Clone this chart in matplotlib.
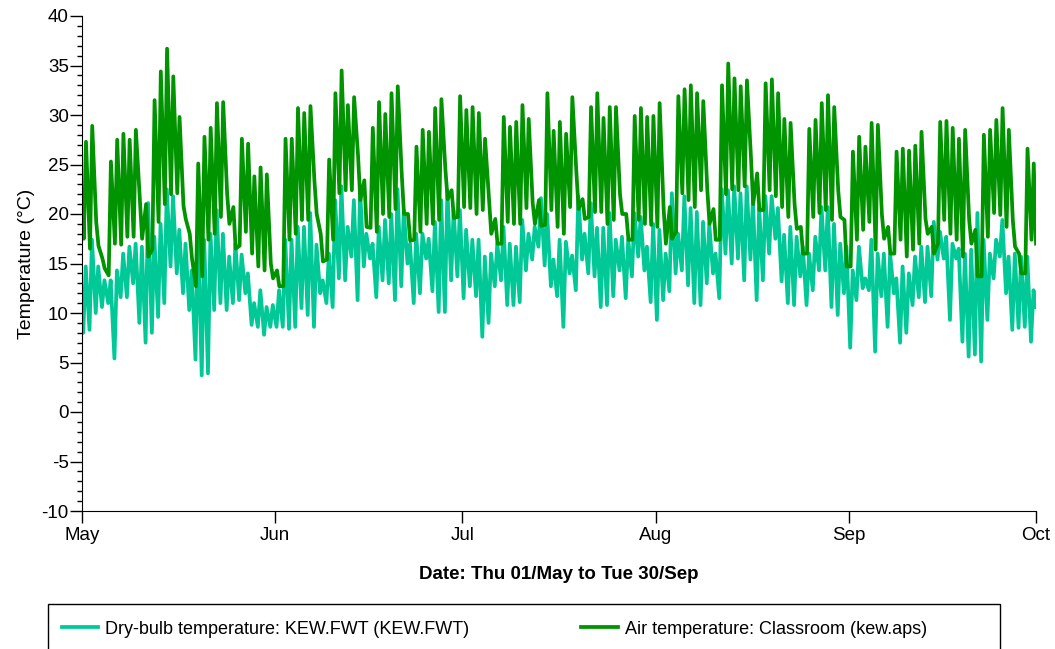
import numpy as np
import pandas as pd
import matplotlib
matplotlib.use('Agg')
import matplotlib.pyplot as plt
import matplotlib.dates as mdates
from matplotlib.patches import Rectangle
from matplotlib.ticker import MultipleLocator

plt.rcParams['font.family'] = ['Liberation Sans', 'DejaVu Sans']
plt.rcParams['axes.unicode_minus'] = False

start = pd.Timestamp('2014-05-01')

# outdoor dry-bulb, daily low (early morning) and high (afternoon), degC
drybulb_min = [8.0, 8.3, 10.0, 10.6, 11.0, 5.4, 11.6, 11.6, 13.0, 9.0,
               7.0, 8.0, 9.6, 11.0, 14.7, 14.0, 12.0, 10.3, 5.3, 3.7,
               3.9, 10.3, 11.0, 10.3, 11.0, 11.3, 12.0, 8.8, 8.6, 7.8,
               8.6, 8.6, 8.6, 8.4, 8.6, 10.5, 9.8, 8.6, 12.0, 11.0,
               10.6, 13.5, 13.3, 15.7, 11.3, 14.7, 15.5, 11.6, 13.3, 13.0,
               11.3, 12.7, 15.0, 11.0, 12.0, 15.5, 12.2, 10.1, 10.1, 13.3,
               13.7, 11.5, 12.7, 11.7, 7.6, 9.0, 12.7, 13.3, 10.8, 10.8,
               11.1, 14.3, 15.4, 16.7, 14.8, 12.7, 11.7, 8.6, 14.0, 12.3,
               15.4, 14.0, 13.7, 10.6, 10.8, 11.7, 14.3, 11.5, 13.7, 15.7,
               14.3, 11.1, 9.3, 11.3, 12.2, 14.0, 14.3, 12.8, 11.0, 10.8,
               13.0, 14.0, 11.5, 16.0, 15.0, 15.5, 13.3, 15.4, 11.3, 13.3,
               16.0, 17.5, 13.2, 11.0, 10.8, 13.7, 10.8, 12.3, 14.3, 14.3,
               10.6, 9.8, 12.0, 6.5, 11.3, 12.5, 12.3, 6.1, 11.7, 8.6,
               12.0, 7.0, 8.0, 10.8, 11.6, 11.1, 11.7, 15.4, 15.5, 9.3,
               15.5, 7.1, 5.6, 5.8, 5.1, 9.3, 13.5, 15.7, 12.0, 8.3,
               8.5, 8.6, 7.1]
drybulb_max = [14.7, 17.4, 14.7, 13.3, 13.3, 14.3, 16.0, 16.7, 17.0, 16.7,
               21.1, 17.7, 19.0, 22.5, 21.8, 18.4, 17.0, 14.3, 18.4, 17.4,
               18.0, 20.4, 18.0, 15.7, 17.0, 15.9, 14.0, 11.0, 12.3, 10.6,
               10.8, 12.3, 17.4, 17.4, 18.7, 18.7, 20.1, 16.9, 13.3, 16.0,
               21.4, 22.8, 18.7, 21.4, 22.4, 18.0, 17.0, 18.7, 19.4, 20.0,
               22.5, 20.4, 17.0, 18.0, 18.0, 17.5, 19.2, 21.4, 22.4, 20.4,
               20.4, 18.4, 17.4, 17.4, 15.7, 16.0, 17.0, 18.7, 17.0, 16.7,
               19.4, 18.0, 18.7, 21.6, 20.0, 15.4, 17.4, 17.2, 15.8, 21.8,
               18.0, 21.1, 18.6, 18.6, 20.1, 17.4, 17.7, 17.4, 20.1, 19.7,
               16.7, 19.0, 18.4, 16.0, 22.1, 18.0, 21.8, 20.6, 20.2, 19.2,
               19.0, 16.0, 22.5, 22.4, 22.8, 22.1, 22.8, 21.4, 20.7, 21.8,
               21.8, 20.6, 17.9, 18.7, 17.7, 16.7, 16.0, 17.7, 20.7, 20.7,
               19.0, 17.0, 16.7, 14.3, 16.7, 13.5, 17.4, 16.0, 16.0, 16.0,
               13.5, 14.7, 14.0, 15.7, 16.7, 16.7, 19.2, 18.2, 17.7, 17.0,
               16.5, 16.0, 16.4, 20.1, 17.4, 16.0, 17.4, 19.4, 15.7, 16.0,
               15.7, 15.7, 12.3]

# classroom air temperature, morning and afternoon reading each day, degC
air_am = [17.5, 16.5, 19.2, 15.5, 13.8, 17.0, 16.9, 17.7, 17.7, 21.4,
          21.0, 16.4, 19.2, 21.0, 22.0, 22.1, 20.8, 18.0, 12.7, 13.7,
          17.4, 18.0, 19.7, 22.0, 20.7, 16.8, 18.2, 16.0, 14.7, 14.3,
          15.0, 14.3, 12.7, 17.4, 18.0, 19.4, 19.4, 23.3, 18.0, 15.4,
          17.4, 22.1, 22.4, 22.4, 25.8, 23.4, 18.6, 18.2, 20.0, 19.7,
          20.5, 24.0, 20.0, 17.4, 18.2, 19.0, 19.0, 19.4, 24.5, 22.4,
          19.7, 20.7, 20.6, 20.0, 20.4, 21.5, 19.5, 17.0, 19.2, 19.0,
          19.0, 20.6, 21.1, 21.4, 18.9, 20.4, 18.7, 18.0, 20.7, 24.3,
          21.5, 19.7, 20.2, 20.2, 19.0, 19.4, 22.0, 20.0, 17.4, 19.4,
          19.0, 18.9, 18.7, 20.5, 20.7, 18.2, 22.1, 21.4, 20.7, 22.4,
          22.5, 20.5, 17.4, 22.0, 22.5, 22.4, 22.8, 25.8, 24.1, 20.4,
          22.4, 21.8, 20.7, 19.7, 21.0, 18.7, 16.0, 19.7, 20.1, 20.4,
          19.4, 22.4, 19.4, 14.7, 17.4, 18.4, 19.2, 16.4, 20.0, 18.7,
          16.0, 17.4, 15.7, 16.4, 17.0, 19.5, 18.7, 17.0, 19.4, 18.0,
          17.4, 15.7, 19.4, 18.4, 13.7, 17.7, 20.1, 19.9, 18.7, 19.4,
          16.0, 14.0, 17.4]
air_pm = [27.3, 28.9, 16.8, 14.5, 25.3, 27.5, 28.1, 27.5, 28.5, 17.5,
          15.7, 31.5, 34.4, 36.7, 33.9, 29.8, 19.5, 15.5, 25.1, 27.8,
          28.7, 31.2, 31.3, 19.0, 16.5, 27.6, 27.1, 23.8, 24.7, 24.0,
          13.5, 12.7, 27.6, 27.6, 30.7, 30.2, 30.9, 20.0, 15.2, 25.5,
          32.2, 34.5, 31.0, 31.8, 21.4, 18.7, 28.7, 31.3, 30.1, 32.2,
          32.9, 20.0, 17.3, 26.8, 28.5, 28.3, 30.7, 31.6, 21.5, 19.6,
          31.9, 30.5, 30.8, 30.2, 27.6, 18.0, 17.0, 29.8, 28.8, 29.3,
          31.0, 29.6, 19.0, 18.8, 32.2, 28.4, 29.3, 28.1, 31.8, 20.5,
          19.5, 30.8, 32.2, 29.7, 30.8, 30.8, 20.0, 17.4, 29.9, 30.7,
          29.8, 29.9, 31.2, 17.0, 17.5, 31.9, 32.6, 33.0, 32.2, 31.4,
          19.0, 17.4, 33.0, 35.2, 33.7, 32.9, 33.5, 21.0, 20.4, 33.2,
          33.6, 32.2, 29.6, 29.2, 18.5, 16.0, 28.6, 29.5, 31.2, 32.0,
          30.8, 19.7, 14.7, 26.3, 27.8, 26.8, 29.2, 29.0, 17.5, 16.0,
          26.3, 26.6, 26.4, 26.9, 28.3, 18.0, 16.0, 29.3, 29.4, 28.7,
          27.6, 28.5, 17.0, 13.7, 28.0, 28.5, 29.5, 30.7, 28.5, 16.7,
          14.0, 26.6, 25.1]

drybulb_ends = [9.0, 10.6]
air_ends = [22.0, 17.0]

legend_labels = ['Dry-bulb temperature: KEW.FWT (KEW.FWT)',
                 'Air temperature: Classroom (kew.aps)']


def series(a, b, ends, ta, tb):
    n = len(a)
    d = np.arange(n)
    t = np.concatenate([[0], np.column_stack([d + ta, d + tb]).ravel(), [n]])
    v = np.concatenate([[ends[0]], np.column_stack([a, b]).ravel(), [ends[1]]])
    return start + pd.to_timedelta(t, unit='D'), v


t1, v1 = series(drybulb_min, drybulb_max, drybulb_ends, 0.2, 0.6)
t2, v2 = series(air_am, air_pm, air_ends, 0.28, 0.64)

W, H = 1055, 649
fig = plt.figure(figsize=(W / 100, H / 100), dpi=100)
ax = fig.add_axes([82 / W, 138 / H, 954 / W, 495 / H])

l1, = ax.plot(t1, v1, color='#00C896', lw=2.7, solid_joinstyle='round')
l2, = ax.plot(t2, v2, color='#009400', lw=2.7, solid_joinstyle='round')

ax.set_xlim(start, pd.Timestamp('2014-10-01'))
ax.set_ylim(-10, 40)
ax.yaxis.set_major_locator(MultipleLocator(5))
ax.yaxis.set_minor_locator(MultipleLocator(1))
ax.xaxis.set_major_locator(mdates.MonthLocator())
ax.xaxis.set_major_formatter(mdates.DateFormatter('%b'))

for s in ['top', 'right']:
    ax.spines[s].set_visible(False)
ax.tick_params(axis='y', which='major', length=8.5, width=1, pad=1, labelsize=13.5)
ax.tick_params(axis='y', which='minor', length=3.5, width=1)
ax.tick_params(axis='x', which='major', length=8.5, width=1, pad=3, labelsize=13.5)

ax.set_ylabel('Temperature (\u00b0C)', fontsize=14, labelpad=5)
ax.set_xlabel('Date: Thu 01/May to Tue 30/Sep', fontsize=13.5,
              fontweight='bold', labelpad=16)

fig.patches.append(Rectangle((48 / W, -0.05), 952 / W, 0.05 + 45 / H,
                             transform=fig.transFigure, fill=False,
                             edgecolor='black', lw=1))
fig.legend([l1, l2], legend_labels, loc='center left',
           bbox_to_anchor=(62 / W, 1 - 629 / H), ncol=2, frameon=False,
           borderpad=0, borderaxespad=0, handlelength=2.0, handletextpad=0.4,
           columnspacing=6.2, fontsize=13)

fig.savefig('out.png', dpi=100)
